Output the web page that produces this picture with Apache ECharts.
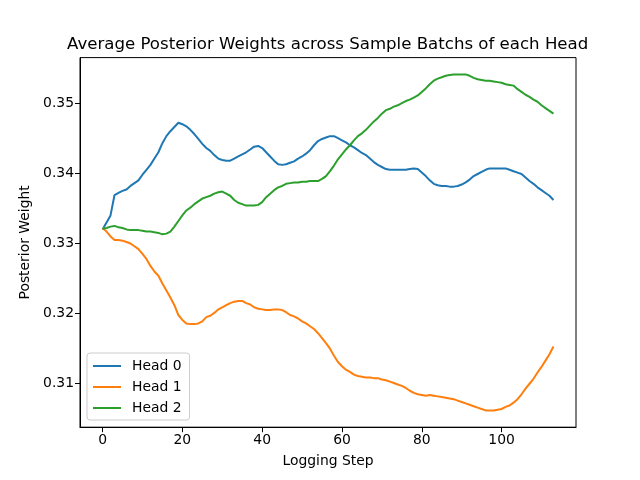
<!DOCTYPE html>
<html>
<head>
<meta charset="utf-8">
<script src="https://cdn.jsdelivr.net/npm/echarts@6/dist/echarts.min.js"></script>
<style>html,body{margin:0;padding:0;background:#fff}#c{width:640px;height:480px}</style>
</head>
<body>
<div id="c"></div>
<script>
const title = "Average Posterior Weights across Sample Batchs of each Head";
const seriesNames = ["Head 0", "Head 1", "Head 2"];
const xTicks = [0, 20, 40, 60, 80, 100];
const yTicks = [0.31, 0.32, 0.33, 0.34, 0.35];

const head0 = [0.3320,0.3330,0.3340,0.3369,0.3372,0.3375,0.3377,0.3382,0.3386,0.3390,
0.3398,0.3405,0.3412,0.3421,0.3430,0.3443,0.3453,0.3460,0.3466,0.3472,
0.3470,0.3467,0.3462,0.3456,0.3449,0.3442,0.3436,0.3432,0.3426,0.3421,
0.3419,0.3418,0.3418,0.3421,0.3424,0.3427,0.3430,0.3434,0.3438,0.3439,
0.3436,0.3430,0.3424,0.3418,0.3413,0.3412,0.3413,0.3415,0.3417,0.3421,
0.3424,0.3428,0.3433,0.3440,0.3446,0.3449,0.3451,0.3453,0.3453,0.3450,
0.3447,0.3444,0.3440,0.3437,0.3433,0.3429,0.3426,0.3421,0.3416,0.3412,
0.3409,0.3406,0.3405,0.3405,0.3405,0.3405,0.3405,0.3406,0.3407,0.3406,
0.3401,0.3396,0.3390,0.3385,0.3383,0.3382,0.3382,0.3381,0.3381,0.3382,
0.3384,0.3387,0.3391,0.3396,0.3399,0.3402,0.3405,0.3407,0.3407,0.3407,
0.3407,0.3407,0.3405,0.3403,0.3401,0.3399,0.3394,0.3389,0.3385,0.3380,
0.3376,0.3372,0.3368,0.3362];

const head1 = [0.3322,0.3317,0.3310,0.3305,0.3305,0.3304,0.3302,0.3300,0.3296,0.3292,
0.3285,0.3278,0.3268,0.3260,0.3254,0.3243,0.3233,0.3223,0.3212,0.3198,
0.3191,0.3186,0.3185,0.3185,0.3186,0.3189,0.3195,0.3197,0.3201,0.3206,
0.3209,0.3212,0.3215,0.3217,0.3218,0.3218,0.3215,0.3213,0.3209,0.3207,
0.3206,0.3205,0.3205,0.3206,0.3206,0.3205,0.3202,0.3198,0.3196,0.3193,
0.3189,0.3186,0.3182,0.3178,0.3172,0.3165,0.3158,0.3150,0.3140,0.3131,
0.3125,0.3120,0.3117,0.3113,0.3111,0.3110,0.3109,0.3109,0.3108,0.3108,
0.3106,0.3105,0.3103,0.3101,0.3099,0.3097,0.3094,0.3090,0.3087,0.3085,
0.3084,0.3083,0.3084,0.3083,0.3082,0.3081,0.3080,0.3079,0.3078,0.3076,
0.3074,0.3072,0.3070,0.3068,0.3066,0.3064,0.3062,0.3062,0.3062,0.3063,
0.3064,0.3067,0.3069,0.3073,0.3078,0.3085,0.3093,0.3100,0.3107,0.3116,
0.3124,0.3133,0.3142,0.3153];

const head2 = [0.3321,0.3322,0.3324,0.3325,0.3323,0.3322,0.3320,0.3319,0.3319,0.3319,
0.3318,0.3317,0.3317,0.3316,0.3315,0.3313,0.3314,0.3317,0.3324,0.3332,
0.3340,0.3347,0.3351,0.3356,0.3360,0.3364,0.3366,0.3368,0.3371,0.3373,
0.3374,0.3371,0.3368,0.3362,0.3358,0.3356,0.3354,0.3354,0.3354,0.3355,
0.3359,0.3366,0.3371,0.3376,0.3380,0.3382,0.3385,0.3386,0.3387,0.3387,
0.3388,0.3388,0.3389,0.3389,0.3389,0.3392,0.3396,0.3403,0.3411,0.3420,
0.3427,0.3434,0.3440,0.3447,0.3453,0.3457,0.3462,0.3468,0.3474,0.3479,
0.3485,0.3490,0.3492,0.3495,0.3497,0.3500,0.3503,0.3505,0.3508,0.3511,
0.3516,0.3521,0.3527,0.3532,0.3535,0.3537,0.3539,0.3540,0.3541,0.3541,
0.3541,0.3541,0.3539,0.3536,0.3534,0.3533,0.3532,0.3532,0.3531,0.3530,
0.3529,0.3527,0.3526,0.3525,0.3520,0.3516,0.3512,0.3509,0.3505,0.3502,
0.3497,0.3493,0.3489,0.3485];

const allSeries = [head0, head1, head2];
const colors = ["#1f77b4", "#ff7f0e", "#2ca02c"];

const n = head0.length;
const xMinD = 0, xMaxD = n - 1;
const xPad = (xMaxD - xMinD) * 0.05;
let yMinD = Infinity, yMaxD = -Infinity;
allSeries.forEach(s => s.forEach(v => { if (v < yMinD) yMinD = v; if (v > yMaxD) yMaxD = v; }));
const yPad = (yMaxD - yMinD) * 0.05;

const font = "DejaVu Sans";
const chart = echarts.init(document.getElementById('c'), null, {renderer: 'canvas'});
chart.setOption({
  animation: false,
  backgroundColor: '#fff',
  color: colors,
  title: {
    text: title, left: 62, top: 31,
    textStyle: {fontFamily: font, fontSize: 16.6, fontWeight: 'normal', color: '#000'}
  },
  grid: {left: 80, right: 64, top: 57.6, bottom: 52.8, show: true, borderColor: '#000', borderWidth: 1, backgroundColor: 'transparent', containLabel: false},
  legend: {
    orient: 'vertical', left: 87, top: 353,
    data: seriesNames,
    icon: 'rect',
    itemWidth: 28, itemHeight: 2, itemGap: 5,
    padding: [5, 8, 4, 6],
    backgroundColor: 'rgba(255,255,255,0.8)', borderColor: '#cccccc', borderWidth: 1, borderRadius: 3,
    textStyle: {fontFamily: font, fontSize: 13.9, color: '#000', padding: [0,0,0,6], lineHeight: 16}
  },
  xAxis: {
    type: 'value', min: xMinD - xPad, max: xMaxD + xPad,
    name: 'Logging Step', nameLocation: 'middle', nameGap: 27,
    nameTextStyle: {fontFamily: font, fontSize: 13.9, color: '#000'},
    splitLine: {show: false},
    axisLine: {show: true, onZero: false, lineStyle: {color: '#000', width: 1}},
    axisTick: {show: true, inside: false, length: 5, lineStyle: {color: '#000', width: 1}, customValues: xTicks},
    axisLabel: {fontFamily: font, fontSize: 13.9, color: '#000', margin: 6, customValues: xTicks, formatter: v => String(v)}
  },
  yAxis: {
    type: 'value', min: yMinD - yPad, max: yMaxD + yPad,
    name: 'Posterior Weight', nameLocation: 'middle', nameGap: 47, nameRotate: 90,
    nameTextStyle: {fontFamily: font, fontSize: 13.9, color: '#000'},
    splitLine: {show: false},
    axisLine: {show: true, onZero: false, lineStyle: {color: '#000', width: 1}},
    axisTick: {show: true, inside: false, length: 5, lineStyle: {color: '#000', width: 1}, customValues: yTicks},
    axisLabel: {fontFamily: font, fontSize: 13.9, color: '#000', margin: 6, customValues: yTicks, formatter: v => v.toFixed(2)}
  },
  series: allSeries.map((s, k) => ({
    name: seriesNames[k], type: 'line', showSymbol: false, symbol: 'none',
    data: s.map((v, i) => [i, v]),
    lineStyle: {width: 2, color: colors[k]},
    itemStyle: {color: colors[k]},
    z: 2 + k
  }))
});
</script>
</body>
</html>
